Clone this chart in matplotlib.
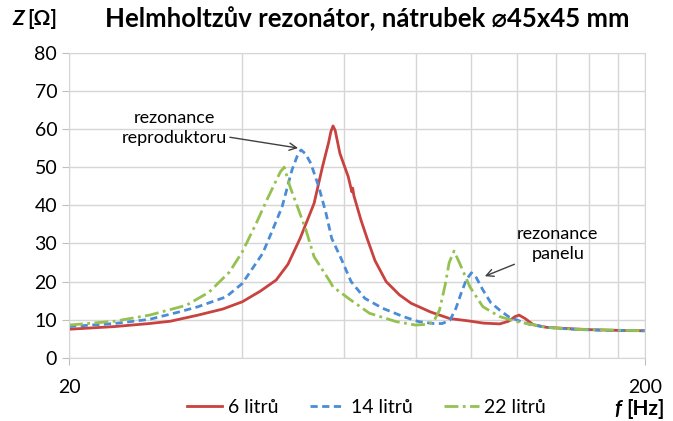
import matplotlib.pyplot as plt
from matplotlib.ticker import FixedLocator, NullFormatter

# 6 litru
f_6 = [20, 24, 27.6, 30, 33.5, 37, 40, 43, 45.8, 48, 50.4, 53.3, 55.1, 56.5, 57.0, 57.5, 58.0,
       59.1, 60.2, 61.1, 62.0, 62.2, 62.5, 64.3, 65.9, 68, 71.1, 75, 78.6, 85, 91.7, 98.7, 105,
       112, 116, 119, 121, 124, 128, 135, 146, 160, 180, 200]
z_6 = [7.5, 8.2, 9.0, 9.6, 11.2, 12.8, 14.7, 17.5, 20.4, 24.5, 31.3, 40.5, 50, 56.5, 59.3, 60.8, 59.6,
       53.6, 50.2, 47.5, 43.5, 44.5, 42.5, 36.1, 31.3, 25.5, 20, 16.5, 14.3, 12.0, 10.3, 9.7, 9.1,
       8.9, 9.6, 10.8, 11.2, 10.3, 8.7, 8.0, 7.7, 7.4, 7.2, 7.1]

# 14 litru
f_14 = [20, 24, 27.6, 31, 33.5, 37.5, 40, 43.4, 45, 46.9, 48.8, 50.0, 50.6, 51.5, 52.6, 54.3,
        55.9, 57.2, 59.2, 61.8, 65.3, 70.1, 76.2, 81, 86, 89, 91.8, 94, 96, 98, 100, 102,
        104.7, 108, 112, 116, 120, 126, 135, 150, 170, 200]
z_14 = [8.2, 9.0, 10.1, 12.0, 13.4, 16.0, 19.5, 27.4, 33, 39.6, 49.3, 53.5, 54.5, 53.5, 51, 44.9,
        37.9, 31.3, 26.5, 20, 15.6, 13, 10.8, 9.5, 9.0, 9.0, 9.9, 13, 17, 20.5, 22.3, 21,
        17.8, 14.5, 12.5, 10.8, 9.9, 8.8, 8.0, 7.5, 7.2, 7.1]

# 22 litru
f_22 = [20, 24, 27.6, 32, 35, 38, 40, 42.3, 44, 45.8, 46.6, 47.3, 48.4, 50.1, 51.6, 53.3, 56.8,
        57.5, 61.8, 66.5, 74, 80, 84, 86, 88, 90, 91.5, 93.3, 95.4, 99.4, 104.7, 112, 120, 135,
        150, 200]
z_22 = [8.6, 9.6, 11.2, 13.8, 17.2, 22.5, 27.8, 35.3, 41, 46.5, 48.8, 50, 44.9, 38.8, 33.5, 26.5, 20,
        18.6, 15.1, 11.7, 9.5, 8.6, 8.8, 9.5, 12.5, 19, 25, 28, 24.8, 18.6, 13.4, 10.8, 9.5, 8.0,
        7.5, 7.1]

y_ticks = [0, 10, 20, 30, 40, 50, 60, 70, 80]
x_minor = [40, 60, 80, 100, 120, 140, 160, 180]

plt.rcParams['font.family'] = ['Lato', 'DejaVu Sans']

fig = plt.figure(figsize=(6.73, 4.21), dpi=100)
ax = fig.add_axes([0.1025, 0.150, 0.8555, 0.7248])

ax.plot(f_6, z_6, color='#C8423F', lw=2, label='6 litrů')
ax.plot(f_14, z_14, color='#4A8DD6', lw=2, dashes=(2.6, 1.6), label='14 litrů')
ax.plot(f_22, z_22, color='#94C150', lw=2, dashes=(5, 1.6, 1, 1.6), label='22 litrů')

ax.set_xscale('log')
ax.set_xlim(20, 200)
ax.set_ylim(0, 80)
ax.set_xticks([20, 200])
ax.set_xticklabels(['20', '200'])
ax.xaxis.set_minor_locator(FixedLocator(x_minor))
ax.xaxis.set_minor_formatter(NullFormatter())
ax.set_yticks(y_ticks)

ax.grid(True, which='both', color='#D6D6D6', lw=1)
ax.set_axisbelow(True)
for s in ax.spines.values():
    s.set_color('#D6D6D6')
ax.tick_params(axis='both', which='major', labelsize=14, color='#BFBFBF', length=5)
ax.tick_params(axis='x', which='major', pad=10)
ax.tick_params(axis='x', which='minor', length=0)

ax.annotate('rezonance\nreproduktoru', xy=(50, 55), xytext=(30.5, 60.3),
            ha='center', va='center', fontsize=13, linespacing=1.3,
            arrowprops=dict(arrowstyle='->', color='#404040', lw=1,
                            shrinkA=0, shrinkB=0, relpos=(1.0, 0.25)))
ax.annotate('rezonance\npanelu', xy=(105.5, 21.4), xytext=(141.3, 29.8),
            ha='center', va='center', fontsize=13, linespacing=1.3,
            arrowprops=dict(arrowstyle='->', color='#404040', lw=1,
                            shrinkA=0, shrinkB=0, relpos=(0.25, 0.2)))

fig.text(0.546, 0.955, 'Helmholtzův rezonátor, nátrubek ⌀45x45 mm', ha='center', va='center',
         fontsize=18.5, fontweight='bold')
fig.text(0.018, 0.955, 'Z', ha='left', va='center', fontsize=15, fontweight='bold', style='italic')
fig.text(0.040, 0.955, '[Ω]', ha='left', va='center', fontsize=15, fontweight='bold')
fig.text(0.912, 0.028, 'f', ha='left', va='center', fontsize=15, fontweight='bold', style='italic')
fig.text(0.930, 0.028, '[Hz]', ha='left', va='center', fontsize=15, fontweight='bold')

fig.legend(loc='center', bbox_to_anchor=(0.545, 0.033), ncol=3, frameon=False, fontsize=14,
           handlelength=1.8, handletextpad=0.3, columnspacing=1.6)

fig.savefig('out.png', dpi=100)
